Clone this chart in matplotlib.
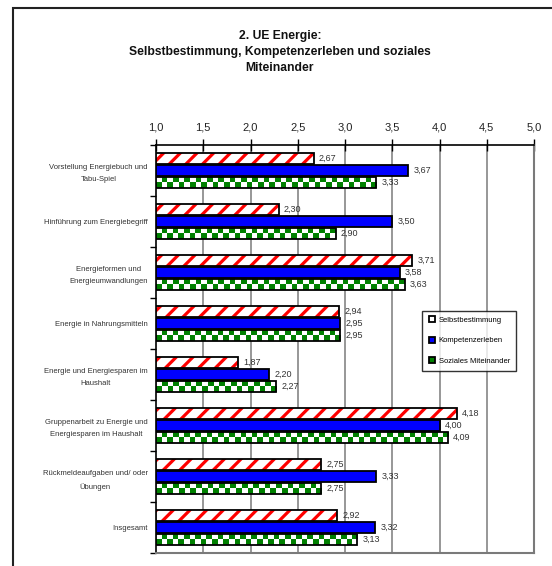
#!/usr/bin/env python3

import numpy as np
import matplotlib
matplotlib.use("Agg")
import matplotlib.pyplot as plt
from matplotlib.colors import ListedColormap
from matplotlib.lines import Line2D
from matplotlib.patches import Rectangle

# Data
categories = [
    "Vorstellung Energiebuch und\nTabu-Spiel",
    "Hinführung zum Energiebegriff",
    "Energieformen und\nEnergieumwandlungen",
    "Energie in Nahrungsmitteln",
    "Energie und Energiesparen im\nHaushalt",
    "Gruppenarbeit zu Energie und\nEnergiesparen im Haushalt",
    "Rückmeldeaufgaben und/ oder\nÜbungen",
    "Insgesamt",
]
selbstbestimmung = [2.67, 2.30, 3.71, 2.94, 1.87, 4.18, 2.75, 2.92]
kompetenzerleben = [3.67, 3.50, 3.58, 2.95, 2.20, 4.00, 3.33, 3.32]
soziales = [3.33, 2.90, 3.63, 2.95, 2.27, 4.09, 2.75, 3.13]
series_names = ["Selbstbestimmung", "Kompetenzerleben", "Soziales Miteinander"]
x_ticks = [1.0, 1.5, 2.0, 2.5, 3.0, 3.5, 4.0, 4.5, 5.0]
title = "2. UE Energie:\nSelbstbestimmung, Kompetenzerleben und soziales\nMiteinander"

RED = "#ff0000"
BLUE = "#0000ff"
GREEN = "#008000"

plt.rcParams["font.family"] = ["Liberation Sans", "DejaVu Sans"]
plt.rcParams["hatch.linewidth"] = 2.3

W, H = 552, 566
fig = plt.figure(figsize=(W / 100, H / 100), dpi=100)
fig.patch.set_facecolor("white")

# Outer frame (runs off the right and bottom edge in the reference)
fig.add_artist(Rectangle((13 / W, -0.1), 1.2, 1 - 8 / H + 0.1,
                         transform=fig.transFigure, fill=False,
                         edgecolor="#222222", linewidth=1.5))

fig.text(280 / W, 1 - 52 / H, title, ha="center", va="center",
         fontsize=8.7, fontweight="bold", linespacing=1.45, color="#111111")

ax = fig.add_axes([156 / W, 1 - 553 / H, 378 / W, 408 / H])

y = np.arange(len(categories))
bar_h = 0.21
off = 0.235
x0 = 1.0

# Selbstbestimmung: red diagonal stripes
ax.barh(y - off, np.array(selbstbestimmung) - x0, left=x0, height=bar_h,
        color="white", edgecolor=RED, hatch="//", linewidth=0, zorder=3)
ax.barh(y - off, np.array(selbstbestimmung) - x0, left=x0, height=bar_h,
        fill=False, edgecolor="black", linewidth=1.3, zorder=4)

# Kompetenzerleben: solid blue
ax.barh(y, np.array(kompetenzerleben) - x0, left=x0, height=bar_h,
        color=BLUE, edgecolor="black", linewidth=1.3, zorder=3)

# Soziales Miteinander: green checkerboard
cmap = ListedColormap(["white", GREEN])
cell = 0.06
for i, v in enumerate(soziales):
    ncol = max(1, int(round((v - x0) / cell)))
    board = np.indices((2, ncol)).sum(axis=0) % 2
    ax.imshow(board, cmap=cmap, aspect="auto", interpolation="nearest",
              extent=(x0, v, y[i] + off + bar_h / 2, y[i] + off - bar_h / 2),
              zorder=3)
ax.barh(y + off, np.array(soziales) - x0, left=x0, height=bar_h,
        fill=False, edgecolor="black", linewidth=1.3, zorder=4)

# Value labels
for vals, dy in ((selbstbestimmung, -off), (kompetenzerleben, 0), (soziales, off)):
    for i, v in enumerate(vals):
        ax.text(v + 0.055, y[i] + dy, ("%.2f" % v).replace(".", ","),
                va="center", ha="left", fontsize=6.5, color="#333333", zorder=5)

ax.set_xlim(1.0, 5.0)
ax.set_ylim(len(categories) - 0.5, -0.5)

# Top ruler axis
ax.xaxis.tick_top()
ax.set_xticks(x_ticks)
ax.set_xticklabels([("%.1f" % t).replace(".", ",") for t in x_ticks],
                   fontsize=8, color="#222222")
ax.tick_params(axis="x", direction="inout", length=8, width=1, pad=5,
               color="black")

# Category labels with ticks at the band boundaries
ax.set_yticks(y)
ax.set_yticklabels(categories, fontsize=5.5, color="#333333", linespacing=2.0)
for lbl in ax.get_yticklabels():
    lbl.set_multialignment("center")
ax.tick_params(axis="y", which="major", length=0, pad=6)
ax.set_yticks(np.arange(len(categories) + 1) - 0.5, minor=True)
ax.tick_params(axis="y", which="minor", direction="out", length=4, width=1,
               color="black")

# Gridlines
for t in x_ticks[1:-1]:
    ax.axvline(t, color="#7a7a7a", linewidth=1.1, zorder=1)

ax.spines["top"].set_color("black")
ax.spines["top"].set_linewidth(1.2)
ax.spines["left"].set_color("black")
ax.spines["left"].set_linewidth(1.2)
ax.spines["right"].set_color("#7a7a7a")
ax.spines["right"].set_linewidth(1.5)
ax.spines["bottom"].set_color("#7a7a7a")
ax.spines["bottom"].set_linewidth(1.5)

# Legend
handles = [
    Line2D([], [], linestyle="none", marker="s", markersize=4.5,
           markerfacecolor=c, markeredgecolor="black", markeredgewidth=1.3)
    for c in ("white", BLUE, GREEN)
]
leg = ax.legend(handles, series_names, loc="upper left",
                bbox_to_anchor=(0.705, 0.594), borderaxespad=0,
                fontsize=5.5, frameon=True, fancybox=False, shadow=False,
                handlelength=0.8, handletextpad=0.5, labelspacing=1.7,
                borderpad=0.8)
leg.get_frame().set_edgecolor("black")
leg.get_frame().set_linewidth(1.0)
leg.set_zorder(6)

plt.savefig("out.png", dpi=100)
